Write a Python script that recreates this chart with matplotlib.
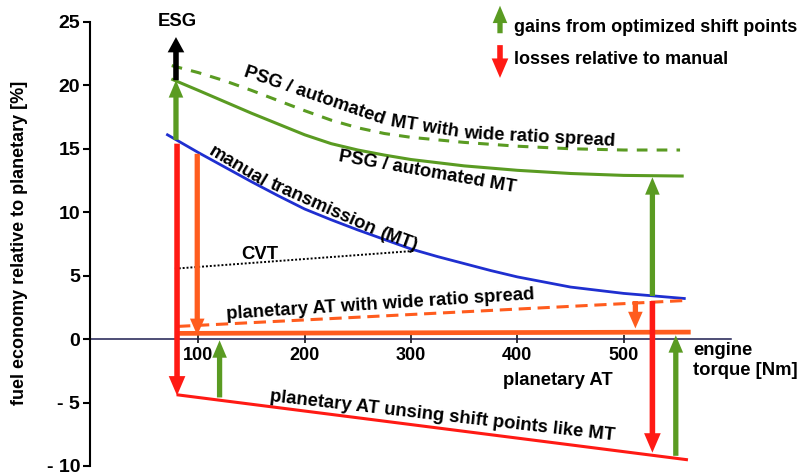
import matplotlib
matplotlib.use("Agg")
import matplotlib.pyplot as plt
from matplotlib.patches import FancyArrowPatch, ArrowStyle

plt.rcParams['font.family'] = ['Liberation Sans', 'DejaVu Sans']
plt.rcParams['font.weight'] = 'bold'

# fuel economy relative to planetary AT [%] over engine torque [Nm]
psg_wide_x = [75, 100, 125, 150, 175, 200, 225, 250, 275, 300, 350, 400, 450, 500, 553]
psg_wide_y = [21.55, 21.0, 20.35, 19.6, 18.8, 18.0, 17.25, 16.65, 16.2, 15.9,
              15.5, 15.2, 15.0, 14.9, 14.9]

psg_x = [76, 100, 125, 150, 175, 200, 225, 250, 275, 300, 350, 400, 450, 500, 555]
psg_y = [20.45, 19.6, 18.7, 17.8, 16.95, 16.1, 15.4, 14.9, 14.5, 14.15,
         13.65, 13.3, 13.05, 12.9, 12.85]

manual_x = [71, 100, 125, 150, 175, 200, 225, 250, 275, 300, 325, 350, 375, 400,
            450, 500, 557]
manual_y = [16.1, 14.7, 13.55, 12.4, 11.3, 10.25, 9.4, 8.6, 7.85, 7.1, 6.5, 5.95,
            5.4, 4.9, 4.1, 3.6, 3.2]

cvt_x = [78, 303]
cvt_y = [5.55, 6.95]

at_wide_x = [81, 560]
at_wide_y = [1.0, 3.05]

at_x = [81, 563]
at_y = [0.45, 0.55]

at_mt_x = [81, 559]
at_mt_y = [-4.4, -9.5]

x_ticks = [100, 200, 300, 400, 500]
y_ticks = [-10, -5, 0, 5, 10, 15, 20, 25]
y_tick_labels = ['- 10', '- 5', '0', '5', '10', '15', '20', '25']

# (torque, start, end, kind)
arrows = [
    (79, 20.4, 23.8, 'esg'),
    (79, 15.7, 20.4, 'gain'),
    (80, 15.4, -4.45, 'loss'),
    (99, 14.6, 0.3, 'loss_at'),
    (120, -4.6, -0.1, 'gain'),
    (527, 3.4, 12.75, 'gain'),
    (527, 3.0, -8.95, 'loss'),
    (511, 3.0, 0.84, 'loss_at'),
    (549, -9.2, 0.3, 'gain'),
]

GREEN = '#5a9b22'
BLUE = '#1f2fd0'
RED = '#ff1a14'
ORANGE = '#ff5c1e'

ARROW_STYLE = {
    'esg': dict(color='black', tail=4.0, head_w=12, head_l=11),
    'gain': dict(color=GREEN, tail=3.8, head_w=10.5, head_l=12.5),
    'loss': dict(color=RED, tail=4.0, head_w=12, head_l=14),
    'loss_at': dict(color=ORANGE, tail=3.8, head_w=10.5, head_l=12),
}

FS = 13.3


def make_arrow(p0, p1, color, tail, head_w, head_l, **kw):
    style = ArrowStyle.Simple(head_length=head_l, head_width=head_w, tail_width=tail)
    return FancyArrowPatch(p0, p1, arrowstyle=style, mutation_scale=1,
                           color=color, lw=0, shrinkA=0, shrinkB=0, **kw)


fig = plt.figure(figsize=(8, 4.75), dpi=100)
ax = fig.add_axes([0.1123, 0.019, 0.88, 0.935])
ax.set_xlim(-2, 660)
ax.set_ylim(-10, 25)

# curves
ax.plot(psg_wide_x, psg_wide_y, color=GREEN, lw=2.2, ls=(0, (3.5, 3)), zorder=3)
ax.plot(psg_x, psg_y, color=GREEN, lw=2.2, zorder=3)
ax.plot(manual_x, manual_y, color=BLUE, lw=2.0, zorder=3)
ax.plot(cvt_x, cvt_y, color='black', lw=1.4, ls=(0, (1, 1)), zorder=3)
ax.plot(at_wide_x, at_wide_y, color=ORANGE, lw=2.2, ls=(0, (4, 2.2)), zorder=3)
ax.plot(at_x, at_y, color=ORANGE, lw=3.4, solid_capstyle='butt', zorder=3)
ax.plot(at_mt_x, at_mt_y, color=RED, lw=2.2, zorder=3)

for x, y0, y1, kind in arrows:
    ax.add_patch(make_arrow((x, y0), (x, y1), zorder=4, **ARROW_STYLE[kind]))

# axes
for side in ('top', 'right'):
    ax.spines[side].set_visible(False)
ax.spines['left'].set_bounds(-10, 25)
ax.spines['left'].set_linewidth(1.5)
ax.spines['bottom'].set_position(('data', 0))
ax.spines['bottom'].set_bounds(-2, 601)
ax.spines['bottom'].set_color('#1c1c50')
ax.spines['bottom'].set_linewidth(1.1)
ax.spines['bottom'].set_zorder(2)

ax.set_xticks(x_ticks)
ax.set_xticklabels([str(t) for t in x_ticks])
ax.set_yticks(y_ticks)
ax.set_yticklabels(y_tick_labels)
ax.tick_params(axis='x', direction='inout', length=6, width=1.1, pad=3,
               labelsize=13, color='black')
ax.tick_params(axis='y', direction='out', length=5, width=1.5, pad=2,
               labelsize=14)
for lbl in ax.get_xticklabels() + ax.get_yticklabels():
    lbl.set_fontweight('bold')

fig.text(0.024, 0.488, 'fuel economy relative to planetary [%]', rotation=90,
         ha='center', va='center', fontsize=13, fontweight='bold')

# curve labels
label_kw = dict(fontsize=FS, fontweight='bold', ha='center', va='center',
                rotation_mode='anchor', zorder=5)
ax.text(80, 25.0, 'ESG', clip_on=False, **label_kw)
ax.text(209, 19.2, 'PSG / automated', rotation=-19, **label_kw)
ax.text(313, 16.75, 'MT with', rotation=-9, **label_kw)
ax.text(421, 15.85, 'wide ratio spread', rotation=-3, **label_kw)
ax.text(315, 13.15, 'PSG / automated MT', rotation=-10, **label_kw)
ax.text(137, 13.6, 'manual', rotation=-31, **label_kw)
ax.text(217, 10.4, 'transmission', rotation=-24, **label_kw)
ax.text(288, 7.8, '(MT)', rotation=-20, **label_kw)
ax.text(158, 6.7, 'CVT', **label_kw)
ax.text(271, 2.7, 'planetary AT with wide ratio spread', rotation=3.7, **label_kw)
ax.text(330, -6.05, 'planetary AT unsing shift points like MT', rotation=-6.5, **label_kw)
ax.text(438, -3.3, 'planetary AT', **label_kw)
ax.text(565, -0.9, 'engine', fontsize=FS, fontweight='bold', ha='left', va='center')
ax.text(565, -2.45, 'torque [Nm]', fontsize=FS, fontweight='bold', ha='left', va='center')

# key for the arrows
fig.add_artist(make_arrow((0.625, 0.93), (0.625, 0.988), transform=fig.transFigure,
                          **ARROW_STYLE['gain']))
fig.add_artist(make_arrow((0.625, 0.905), (0.625, 0.836), transform=fig.transFigure,
                          **ARROW_STYLE['loss']))
fig.text(0.642, 0.943, 'gains from optimized shift points', fontsize=13,
         fontweight='bold', ha='left', va='center')
fig.text(0.642, 0.874, 'losses relative to manual', fontsize=13,
         fontweight='bold', ha='left', va='center')

fig.savefig('out.png', dpi=100, facecolor='white')
